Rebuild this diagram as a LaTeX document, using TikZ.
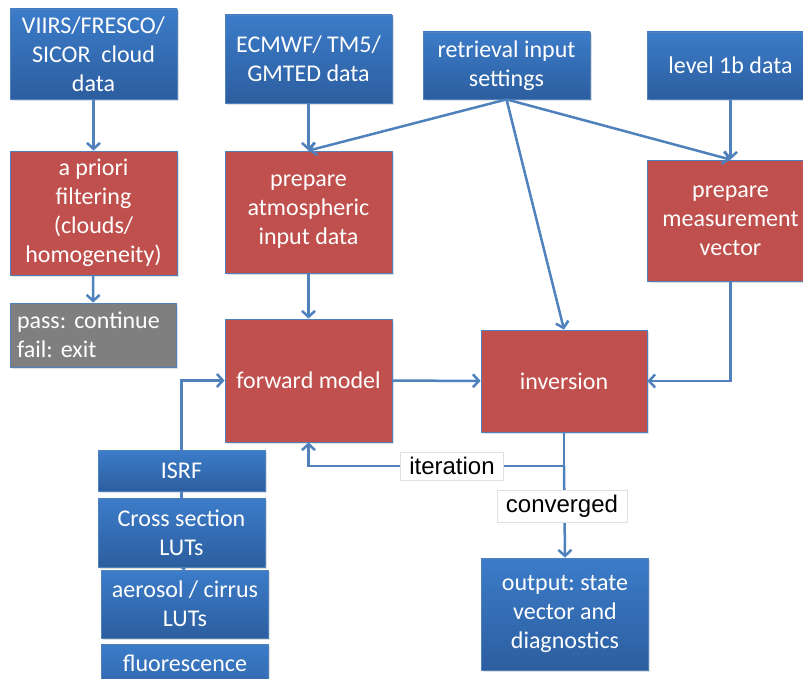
\documentclass[tikz,border=0pt]{standalone}
\usepackage{fontspec}
\setmainfont{Carlito}
\newfontfamily\tagfont{Liberation Sans}
\usetikzlibrary{arrows.meta,shadows}
\frenchspacing
\definecolor{boxblue}{HTML}{3C7CC9}
\definecolor{boxbluedark}{HTML}{2C5E9F}
\definecolor{boxred}{HTML}{C0504D}
\definecolor{boxgray}{HTML}{7F7F7F}
\definecolor{linkblue}{HTML}{4F81BD}
\begin{document}
\begin{tikzpicture}[x=1pt, y=-1pt,
    box/.style={rectangle, draw=linkblue, line width=0.8pt, text=white,
      align=center, inner sep=0pt, font=\fontsize{24}{29}\selectfont,
      drop shadow={shadow xshift=1.5pt, shadow yshift=-2pt, opacity=0.25}},
    databox/.style={box, top color=boxblue, bottom color=boxbluedark},
    stepbox/.style={box, fill=boxred},
    tag/.style={rectangle, draw=black!12, fill=white, inner xsep=9pt,
      inner ysep=5pt, font=\tagfont\fontsize{24}{29}\selectfont}]
  \useasboundingbox (0,0) rectangle (803,679);

  % inputs
  \begin{scope}[every node/.style={databox, minimum width=167pt}]
    \node [minimum height=90pt] (clouddata) at (93.5,54)
      {VIIRS/FRESCO/\\SICOR~ cloud\\data};
    \node [minimum height=88pt] (ecmwf) at (308.5,59) {ECMWF/ TM5/\\GMTED data};
    \node [minimum height=67pt] (settings) at (506.5,65.5)
      {retrieval input\\settings};
    \node [minimum height=67pt] (level1b) at (730.5,65.5) {level 1b data};
    \node [minimum height=41pt] (isrf) at (181.5,470.5) {ISRF};
    \node [minimum height=69pt] (xsec) at (181.5,532.5) {Cross section\\LUTs};
    \node [minimum height=68pt] (aerosol) at (185,604) {aerosol / cirrus\\LUTs};
    \node [minimum height=68pt] (fluor) at (185,678) {fluorescence\\~};
    \node [minimum height=112pt] (output) at (565,614)
      {output: state\\vector and\\diagnostics};
  \end{scope}

  % processing steps
  \begin{scope}[every node/.style={stepbox, minimum width=167pt}]
    \node [minimum height=124pt] (apriori) at (93.5,213)
      {a priori\\filtering\\(clouds/\\homogeneity)};
    \node [minimum height=122pt] (prepatm) at (308.5,212)
      {prepare\\atmospheric\\input data};
    \node [minimum height=121pt] (prepmeas) at (730.5,220.5)
      {prepare\\measurement\\vector};
    \node [minimum height=123pt] (fwd) at (308.5,380.5) {forward model};
    \node [minimum height=102pt, minimum width=166pt] (inv) at (564,381)
      {inversion};
  \end{scope}
  \node [box, fill=boxgray, align=left, text width=152pt, inner xsep=7pt,
    minimum height=64pt] (passfail) at (93,335) {pass: continue\\fail: exit};

  \coordinate (split) at (564,466);

  \begin{scope}[draw=linkblue, line width=2.5pt,
      >={Straight Barb[length=6pt,width=13pt]}]
    \draw [->] (clouddata) -- (apriori);
    \draw [->] (apriori) -- (passfail);
    \draw [->] (ecmwf) -- (prepatm);
    \draw [->] (settings.south) -- (prepatm.north);
    \draw [->] (settings.south) -- (inv.north);
    \draw [->] (settings.south) -- (prepmeas.north);
    \draw [->] (level1b) -- (prepmeas);
    \draw [->] (prepatm) -- (fwd);
    \draw [->] (fwd) -- (inv);
    \draw [->] (prepmeas.south) |- (inv.east);
    \draw [->] (isrf.north) |- (fwd.west);
    \draw (isrf.south) -- (xsec.north);
    \draw (xsec.south) -- (aerosol.north);
    \draw (inv.south) -- (split);
    \draw [->] (split) -| (fwd.south);
    \draw [->] (split) -- (output.north);
  \end{scope}

  \node [tag] (iterlabel) at (452,466) {iteration};
  \node [tag] (convlabel) at (562,506) {converged};
\end{tikzpicture}
\end{document}
